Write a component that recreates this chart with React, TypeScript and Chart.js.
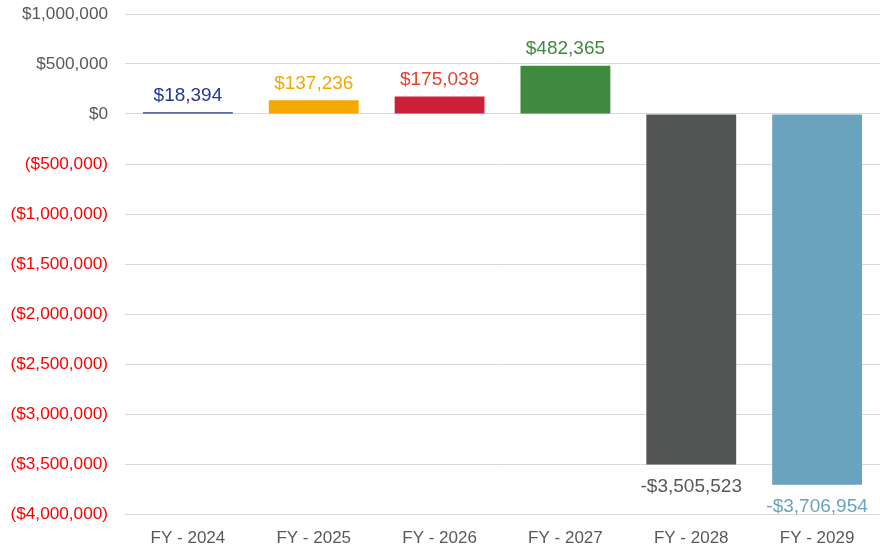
import React, { useEffect, useRef } from "react";
import { Chart, registerables } from "chart.js";

Chart.register(...registerables);

const categories = ["FY - 2024", "FY - 2025", "FY - 2026", "FY - 2027", "FY - 2028", "FY - 2029"];
const values = [18394, 137236, 175039, 482365, -3505523, -3706954];
const barColors = ["#1f3a93", "#f5a800", "#cc1f3a", "#3f8a3f", "#535554", "#6aa3bd"];
const labelColors = ["#1f3a9c", "#f5a800", "#e0442c", "#3f8a3f", "#595959", "#6aa3bd"];
const yMin = -4000000;
const yMax = 1000000;
const yStep = 500000;

const fmtTick = (v: number) =>
  v < 0 ? "($" + Math.abs(v).toLocaleString("en-US") + ")" : "$" + v.toLocaleString("en-US");
const fmtLabel = (v: number) =>
  v < 0 ? "-$" + Math.abs(v).toLocaleString("en-US") : "$" + v.toLocaleString("en-US");

const labelPlugin = {
  id: "valueLabels",
  afterDatasetsDraw(chart: any) {
    const ctx = chart.ctx;
    const meta = chart.getDatasetMeta(0);
    ctx.save();
    ctx.font = "19px 'Liberation Sans', Arial, sans-serif";
    ctx.textAlign = "center";
    meta.data.forEach((bar: any, i: number) => {
      const v = values[i];
      ctx.fillStyle = labelColors[i];
      if (v >= 0) {
        ctx.textBaseline = "alphabetic";
        ctx.fillText(fmtLabel(v), bar.x, bar.y - 11.5);
      } else {
        ctx.textBaseline = "top";
        ctx.fillText(fmtLabel(v), bar.x, bar.y + 13);
      }
    });
    ctx.restore();
  },
};

export default function App() {
  const ref = useRef<HTMLCanvasElement>(null);
  useEffect(() => {
    if (!ref.current) return;
    const chart = new Chart(ref.current, {
      type: "bar",
      data: {
        labels: categories,
        datasets: [
          {
            data: values,
            backgroundColor: barColors,
            borderWidth: 0,
            barPercentage: 0.714,
            categoryPercentage: 1,
          },
        ],
      },
      options: {
        responsive: false,
        animation: false,
        layout: { padding: { top: 14, right: 0, left: 0, bottom: 0 } },
        plugins: { legend: { display: false }, tooltip: { enabled: false } },
        scales: {
          x: {
            grid: { display: false },
            border: { display: false },
            ticks: {
              color: "#595959",
              font: { size: 17, family: "'Liberation Sans', Arial, sans-serif" },
              padding: 6,
            },
            afterFit: (s: any) => {
              s.height = 34;
              s.paddingLeft = 0;
              s.paddingRight = 0;
            },
          },
          y: {
            min: yMin,
            max: yMax,
            grid: { color: "#d9d9d9", drawTicks: false, lineWidth: 1 },
            border: { display: false },
            ticks: {
              stepSize: yStep,
              padding: 17,
              color: (c: any) => (c.tick && c.tick.value < 0 ? "#ff0000" : "#595959"),
              font: { size: 17.2, family: "'Liberation Sans', Arial, sans-serif" },
              callback: (v: any) => fmtTick(Number(v)),
            },
            afterFit: (s: any) => {
              s.width = 125;
              s.paddingTop = 0;
              s.paddingBottom = 0;
            },
          },
        },
      },
      plugins: [labelPlugin],
    });
    return () => chart.destroy();
  }, []);
  return (
    <div style={{ position: "fixed", left: 0, top: 0, width: 880, height: 548, background: "#fff" }}>
      <canvas ref={ref} width={880} height={548} />
    </div>
  );
}
